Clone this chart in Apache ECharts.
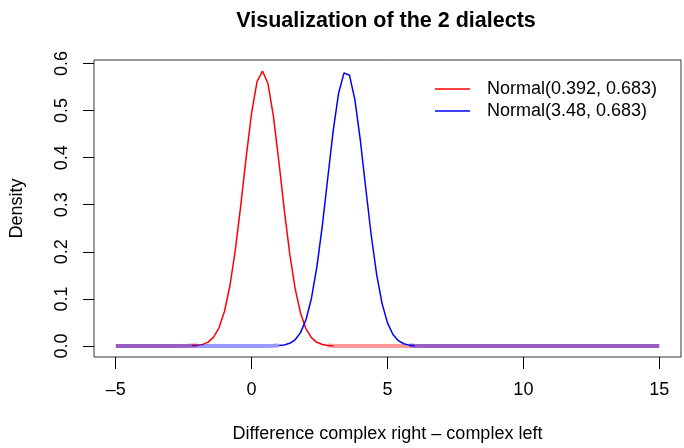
<!DOCTYPE html>
<html>
<head>
<meta charset="utf-8">
<script src="https://cdn.jsdelivr.net/npm/echarts@6/dist/echarts.min.js"></script>
<style>
  html, body { margin: 0; padding: 0; background: #fff; }
  #chart { width: 684px; height: 448px; }
</style>
</head>
<body>
<div id="chart"></div>
<script>
// x grid of the two density curves
const xs = [-5, -4, -3, -2.4, -2.2, -2.0, -1.8, -1.6, -1.4, -1.2, -1.0, -0.8, -0.6, -0.4, -0.2, 0,
  0.2, 0.4, 0.6, 0.8, 1.0, 1.2, 1.4, 1.6, 1.8, 2.0, 2.2, 2.4, 2.6, 2.8, 3.0, 3.2, 3.4, 3.6, 3.8,
  4.0, 4.2, 4.4, 4.6, 4.8, 5.0, 5.2, 5.4, 5.6, 5.8, 6.0, 6.4, 7, 8, 9, 10, 11, 12, 13, 14, 15];

// Normal(0.392, 0.683)
const redDensity = [0, 0, 0, 0.0003, 0.0008, 0.0013, 0.0034, 0.0083, 0.0187, 0.0386, 0.0732, 0.1274,
  0.2034, 0.2982, 0.4012, 0.4953, 0.5614, 0.5840, 0.5575, 0.4886, 0.3930, 0.2901, 0.1966, 0.1222,
  0.0697, 0.0365, 0.0176, 0.0078, 0.0031, 0.0012, 0.0004, 0.0001, 0, 0, 0, 0, 0, 0, 0, 0, 0, 0, 0,
  0, 0, 0, 0, 0, 0, 0, 0, 0, 0, 0, 0, 0];

// Normal(3.48, 0.683)
const blueDensity = [0, 0, 0, 0, 0, 0, 0, 0, 0, 0, 0, 0, 0, 0, 0, 0, 0, 0, 0.0001, 0.0003, 0.0008,
  0.0022, 0.0057, 0.0132, 0.0284, 0.0558, 0.1009, 0.1673, 0.2546, 0.3558, 0.4562, 0.5369, 0.5800,
  0.5751, 0.5233, 0.4371, 0.3350, 0.2357, 0.1522, 0.0902, 0.0491, 0.0245, 0.0112, 0.0047, 0.0018,
  0.0007, 0.0001, 0, 0, 0, 0, 0, 0, 0, 0, 0];

const seriesNames = ['Normal(0.392, 0.683)', 'Normal(3.48, 0.683)'];
const xTicks = [-5, 0, 5, 10, 15];
const yTicks = [0, 0.1, 0.2, 0.3, 0.4, 0.5, 0.6];

const font = 'Liberation Sans';

// peak part drawn thin and solid, near-zero tails drawn thick and see-through
function curvePart(ys) {
  return xs.map((x, i) => {
    const near = ys[i] >= 0.001 || (ys[i - 1] >= 0.001) || (ys[i + 1] >= 0.001);
    return near ? [x, ys[i]] : [x, null];
  });
}
function tailPart(ys) {
  return xs.map((x, i) => (ys[i] < 0.002 ? [x, ys[i]] : [x, null]));
}

function lineSeries(name, data, color, width) {
  return {
    name: name,
    type: 'line',
    data: data,
    showSymbol: false,
    symbol: 'none',
    connectNulls: false,
    lineStyle: { color: color, width: width },
    itemStyle: { color: color },
    z: 3
  };
}

const chart = echarts.init(document.getElementById('chart'));
chart.setOption({
  animation: false,
  title: {
    text: 'Visualization of the 2 dialects',
    left: 386,
    top: 10,
    padding: 0,
    textAlign: 'center',
    textStyle: { fontFamily: font, fontSize: 21.5, fontWeight: 'bold', color: '#000' }
  },
  legend: {
    data: seriesNames,
    orient: 'vertical',
    left: 435,
    top: 80,
    padding: 0,
    itemWidth: 35,
    itemHeight: 1.5,
    itemGap: 4,
    icon: 'rect',
    textStyle: { fontFamily: font, fontSize: 18, color: '#000', lineHeight: 18, padding: [0, 0, 0, 12] }
  },
  grid: {
    left: 92, right: 3, top: 60, bottom: 88,
    show: true, borderColor: '#333', borderWidth: 1
  },
  xAxis: {
    type: 'value',
    min: -5.8,
    max: 15.8,
    name: 'Difference complex right \u2013 complex left',
    nameLocation: 'middle',
    nameGap: 68,
    nameTextStyle: { fontFamily: font, fontSize: 18, color: '#000' },
    axisLine: { show: false, onZero: false },
    splitLine: { show: false },
    axisTick: { show: true, customValues: xTicks, length: 12, inside: false, lineStyle: { color: '#000' } },
    axisLabel: {
      customValues: xTicks,
      margin: 24,
      fontFamily: font, fontSize: 18, color: '#000',
      formatter: v => String(v).replace('-', '\u2013')
    }
  },
  yAxis: {
    type: 'value',
    min: -0.0234,
    max: 0.6074,
    name: 'Density',
    nameLocation: 'middle',
    nameRotate: 90,
    nameGap: 68,
    nameTextStyle: { fontFamily: font, fontSize: 18, color: '#000' },
    axisLine: { show: false, onZero: false },
    splitLine: { show: false },
    axisTick: { show: true, customValues: yTicks, length: 11, inside: false, lineStyle: { color: '#000' } },
    axisLabel: {
      customValues: yTicks,
      rotate: 90,
      margin: 23,
      fontFamily: font, fontSize: 18, color: '#000',
      formatter: v => v.toFixed(1)
    }
  },
  series: [
    lineSeries(seriesNames[0], curvePart(redDensity), '#ff0000', 1.5),
    lineSeries('red tail', tailPart(redDensity), 'rgba(255,0,0,0.4)', 4),
    lineSeries(seriesNames[1], curvePart(blueDensity), '#0000ff', 1.5),
    lineSeries('blue tail', tailPart(blueDensity), 'rgba(0,0,255,0.4)', 4)
  ]
});
</script>
</body>
</html>
